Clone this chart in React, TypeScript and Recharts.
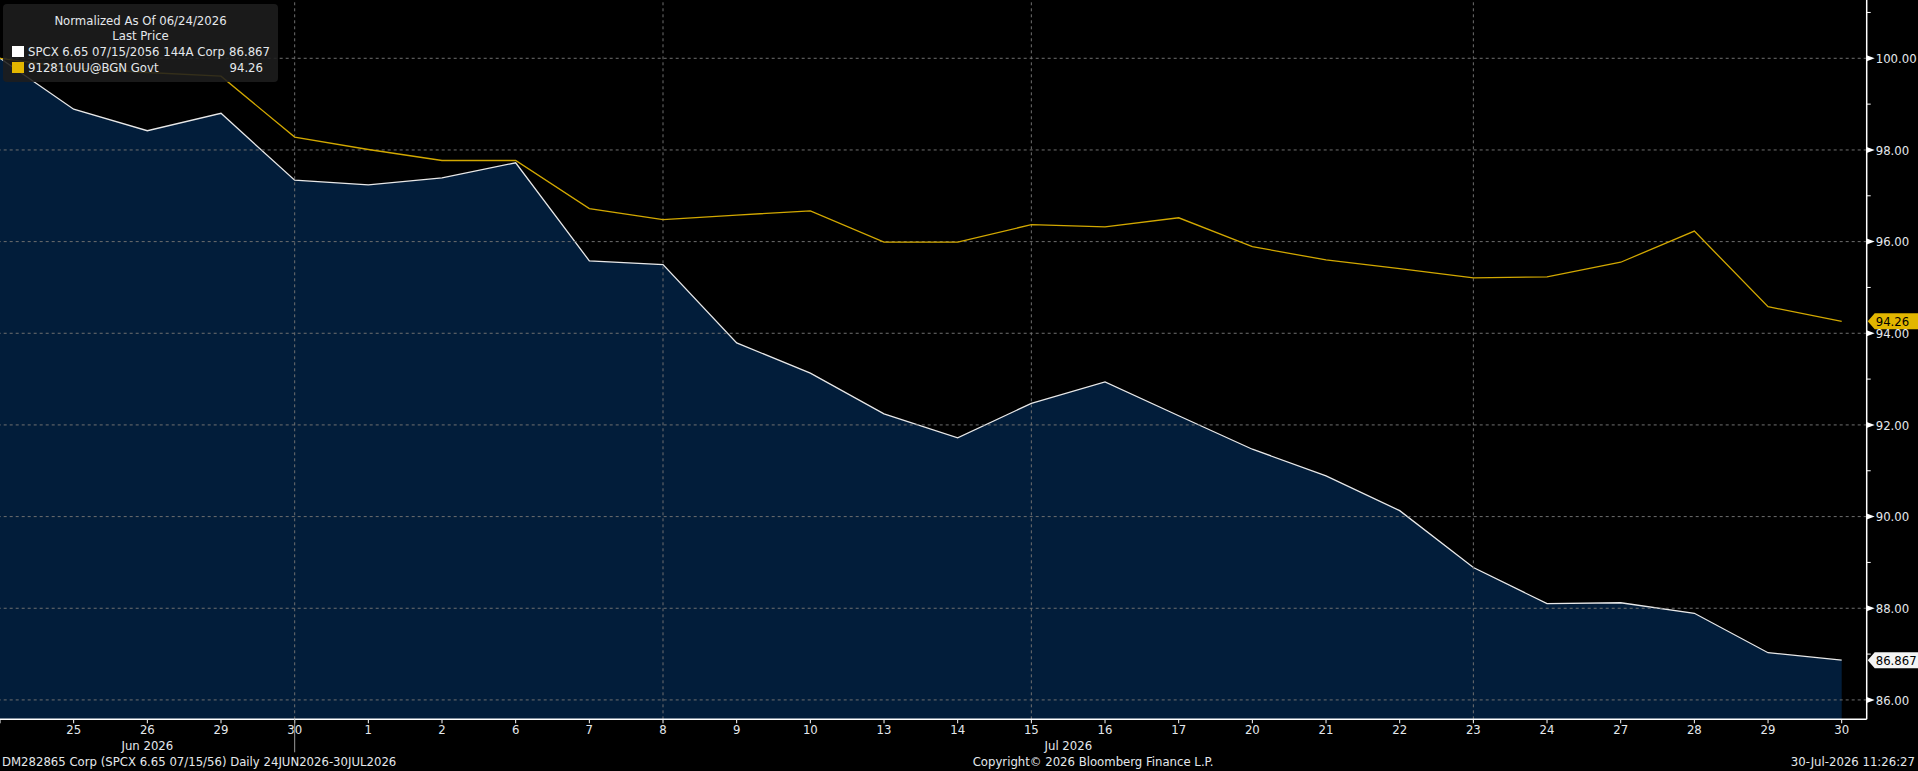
import React from "react"
import { Area, ComposedChart, Line, ReferenceLine, XAxis, YAxis } from "recharts"

const dates = [
  "2026-06-24", "2026-06-25", "2026-06-26", "2026-06-29", "2026-06-30",
  "2026-07-01", "2026-07-02", "2026-07-06", "2026-07-07", "2026-07-08",
  "2026-07-09", "2026-07-10", "2026-07-13", "2026-07-14", "2026-07-15",
  "2026-07-16", "2026-07-17", "2026-07-20", "2026-07-21", "2026-07-22",
  "2026-07-23", "2026-07-24", "2026-07-27", "2026-07-28", "2026-07-29",
  "2026-07-30",
]

// SPCX 6.65 07/15/2056 144A Corp, normalized
const spcx = [
  100, 98.89, 98.42, 98.8, 97.34, 97.24, 97.39, 97.72, 95.58, 95.5,
  93.79, 93.13, 92.24, 91.72, 92.47, 92.94, 92.2, 91.47, 90.89, 90.13,
  88.89, 88.1, 88.12, 87.89, 87.03, 86.867,
]

// 912810UU@BGN Govt, normalized
const govt = [
  100, 99.79, 99.69, 99.61, 98.28, 98.01, 97.77, 97.77, 96.72, 96.48,
  96.58, 96.67, 95.99, 95.99, 96.37, 96.32, 96.52, 95.89, 95.6, 95.41,
  95.21, 95.23, 95.55, 96.23, 94.58, 94.26,
]

const yTicks = [86, 87, 88, 89, 90, 91, 92, 93, 94, 95, 96, 97, 98, 99, 100, 101]
const gridValues = [86, 88, 90, 92, 94, 96, 98, 100]
const gridDates = ["2026-06-30", "2026-07-08", "2026-07-15", "2026-07-23"]

const FONT = '"DejaVu Sans Condensed", "DejaVu Sans", sans-serif'
const TEXT = "#e4e8ec"
const GRID = "#6f6f6f"
const YELLOW = "#d2a800"
const NAVY = "#021d3a"

const chartData = dates.map((date, i) => ({ date, spcx: spcx[i], govt: govt[i] }))

function YTick(props: any) {
  const { x, y, payload } = props
  const v = payload.value as number
  if (v % 2 !== 0) {
    return <line x1={x} x2={x + 4} y1={y} y2={y} stroke="#fff" />
  }
  return (
    <g>
      <polygon points={`${x},${y - 3} ${x + 8},${y} ${x},${y + 3}`} fill="#fff" />
      <text x={x + 9} y={y} dy="0.36em" fill={TEXT} fontSize={13} fontFamily={FONT} style={{ fontStretch: "condensed" }}>
        {v.toFixed(2)}
      </text>
    </g>
  )
}

function XTick(props: any) {
  const { x, y, payload, index } = props
  const d = payload.value as string
  const day = Number(d.slice(8))
  const textProps = { fill: TEXT, fontSize: 13, fontFamily: FONT, textAnchor: "middle" as const, style: { fontStretch: "condensed" } }
  return (
    <g>
      <line x1={x} x2={x} y1={y} y2={y + 4} stroke="#fff" />
      {index > 0 && (
        <text x={x} y={y + 14.5} {...textProps}>
          {day}
        </text>
      )}
      {d === "2026-06-26" && (
        <text x={x} y={y + 30.5} {...textProps}>
          Jun 2026
        </text>
      )}
      {d === "2026-07-15" && (
        <text x={x + 37} y={y + 30.5} {...textProps}>
          Jul 2026
        </text>
      )}
      {d === "2026-06-30" && <line x1={x} x2={x} y1={y} y2={y + 33} stroke="#9a9a9a" />}
    </g>
  )
}

function EndTag(props: any) {
  const { viewBox, text, fill } = props
  const x0 = viewBox.x + viewBox.width
  const y = viewBox.y
  return (
    <g>
      <polygon
        points={`${x0 + 1},${y} ${x0 + 8},${y - 8} 1918,${y - 8} 1918,${y + 8} ${x0 + 8},${y + 8}`}
        fill={fill}
      />
      <text x={x0 + 9} y={y} dy="0.36em" fill="#000" fontSize={13} fontFamily={FONT} style={{ fontStretch: "condensed" }}>
        {text}
      </text>
    </g>
  )
}

const abs = (left: number, top: number, extra: React.CSSProperties = {}): React.CSSProperties => ({
  position: "absolute",
  left,
  top,
  lineHeight: "16px",
  height: 16,
  whiteSpace: "nowrap",
  ...extra,
})

export default function App() {
  return (
    <div
      style={{
        position: "fixed",
        left: 0,
        top: 0,
        width: 1918,
        height: 771,
        background: "#000",
        overflow: "hidden",
        fontFamily: FONT,
        fontStretch: "condensed",
        fontSize: 13,
        color: TEXT,
      }}
    >
      <ComposedChart width={1918} height={771} data={chartData} margin={{ top: 0, right: 0, bottom: 0, left: 0 }}>
        <XAxis
          dataKey="date"
          scale="point"
          interval={0}
          height={51.7}
          padding={{ left: 0, right: 25 }}
          axisLine={{ stroke: "#fff", strokeWidth: 1.5 }}
          tickLine={false}
          tickSize={0}
          tickMargin={0}
          tick={<XTick />}
        />
        <YAxis
          orientation="right"
          type="number"
          domain={[85.577, 101.272]}
          allowDataOverflow
          ticks={yTicks}
          width={51.3}
          axisLine={{ stroke: "#fff", strokeWidth: 1.5 }}
          tickLine={false}
          tickSize={0}
          tickMargin={0}
          tick={<YTick />}
        />
        <Area
          type="linear"
          dataKey="spcx"
          stroke="#e8e8e8"
          strokeWidth={1.3}
          fill={NAVY}
          fillOpacity={1}
          dot={false}
          activeDot={false}
          isAnimationActive={false}
        />
        {gridValues.map((v) => (
          <ReferenceLine key={`h${v}`} y={v} stroke={GRID} strokeDasharray="3 3" />
        ))}
        {gridDates.map((d) => (
          <ReferenceLine key={`v${d}`} x={d} stroke={GRID} strokeDasharray="3 3" />
        ))}
        <Line
          type="linear"
          dataKey="govt"
          stroke={YELLOW}
          strokeWidth={1.3}
          dot={false}
          activeDot={false}
          isAnimationActive={false}
        />
        <ReferenceLine
          y={govt[govt.length - 1]}
          stroke="none"
          label={<EndTag text={govt[govt.length - 1].toFixed(2)} fill="#e2b600" />}
        />
        <ReferenceLine
          y={spcx[spcx.length - 1]}
          stroke="none"
          label={<EndTag text={spcx[spcx.length - 1].toFixed(3)} fill="#f4f4f4" />}
        />
      </ComposedChart>

      <div
        style={{
          position: "absolute",
          left: 3,
          top: 4,
          width: 275,
          height: 78,
          background: "rgba(30,30,30,0.88)",
          borderRadius: 4,
        }}
      >
        <div style={abs(0, 9, { width: 275, textAlign: "center" })}>Normalized As Of 06/24/2026</div>
        <div style={abs(0, 24, { width: 275, textAlign: "center" })}>Last Price</div>
        <div style={{ position: "absolute", left: 9, top: 42, width: 12, height: 11, background: "#fff" }} />
        <div style={abs(25, 40)}>SPCX 6.65 07/15/2056 144A Corp</div>
        <div style={abs(200, 40, { width: 67, textAlign: "right" })}>86.867</div>
        <div style={{ position: "absolute", left: 9, top: 58, width: 12, height: 11, background: "#e2b600" }} />
        <div style={abs(25, 56)}>912810UU@BGN Govt</div>
        <div style={abs(200, 56, { width: 60, textAlign: "right" })}>94.26</div>
      </div>

      <div style={abs(2, 754)}>DM282865 Corp (SPCX 6.65 07/15/56) Daily 24JUN2026-30JUL2026</div>
      <div style={abs(893, 754, { width: 400, textAlign: "center" })}>Copyright© 2026 Bloomberg Finance L.P.</div>
      <div style={abs(1515, 754, { width: 400, textAlign: "right" })}>30-Jul-2026 11:26:27</div>
    </div>
  )
}
